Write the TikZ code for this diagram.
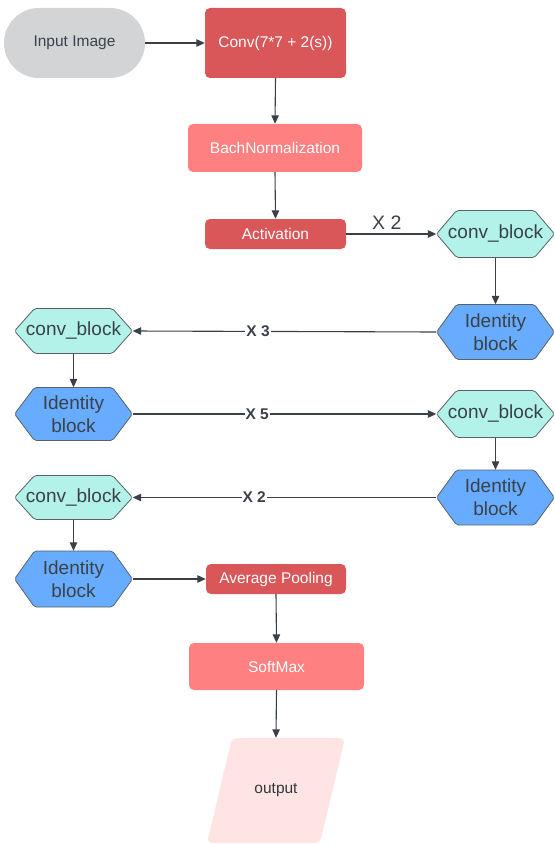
\documentclass[tikz,border=0pt]{standalone}
\usepackage{fontspec}
\setmainfont{Liberation Sans}
\usetikzlibrary{arrows.meta}
\definecolor{redA}{RGB}{217,87,89}
\definecolor{redB}{RGB}{255,128,128}
\definecolor{grayA}{RGB}{211,212,214}
\definecolor{tealA}{RGB}{178,242,232}
\definecolor{blueA}{RGB}{104,172,255}
\definecolor{pinkA}{RGB}{255,228,228}
\definecolor{edgeA}{RGB}{90,96,104}
\definecolor{textA}{RGB}{58,65,74}
\definecolor{arrowA}{RGB}{59,64,72}
\newcommand{\hexbox}[6]{%
  \filldraw[fill=#5, draw=edgeA, line width=0.8pt, rounded corners=2pt]
    ({#2-59},#3) -- ({#2-39},{#3-#4}) -- ({#2+39},{#3-#4}) -- ({#2+59},#3)
    -- ({#2+39},{#3+#4}) -- ({#2-39},{#3+#4}) -- cycle;
  \node[hexlabel, minimum height={2*#4}] (#1) at (#2,#3) {#6};}
\begin{document}
\begin{tikzpicture}[x=1pt,y=-1pt,
  box/.style={rectangle, rounded corners=5pt, text=white, inner sep=0pt,
    font=\fontsize{15.5}{18}\selectfont},
  hexlabel/.style={rectangle, inner sep=0pt, minimum width=118pt, align=center,
    text=textA, font=\fontsize{19}{23}\selectfont},
  conn/.style={draw=arrowA, line width=1.1pt, -{Triangle[length=8.5pt,width=7.5pt]}},
  xlab/.style={fill=white, inner sep=1pt, text=textA, font=\bfseries\fontsize{15.5}{17}\selectfont}
]
\useasboundingbox (0,0) rectangle (554,845);

\node[rectangle, rounded corners=35pt, fill=grayA, minimum width=141pt, minimum height=70pt,
  text=textA, font=\fontsize{15.5}{18}\selectfont] (inp) at (74.5,43) {Input Image};
\node[box, fill=redA, minimum width=141pt, minimum height=70pt] (conv) at (275.5,43) {Conv(7*7 + 2(s))};
\node[box, fill=redB, minimum width=174pt, minimum height=48pt] (bn) at (275,148) {BachNormalization};
\node[box, fill=redA, minimum width=141pt, minimum height=30pt] (act) at (275.5,234) {Activation};

\hexbox{cb1}{495.5}{234}{23.5}{tealA}{conv\_block}
\hexbox{id1}{495.5}{332}{27.5}{blueA}{Identity\\block}
\hexbox{cb2}{73.5}{331}{22.5}{tealA}{conv\_block}
\hexbox{id2}{73.5}{414}{26.5}{blueA}{Identity\\block}
\hexbox{cb3}{495.5}{414}{23.5}{tealA}{conv\_block}
\hexbox{id3}{495.5}{497.5}{27.5}{blueA}{Identity\\block}
\hexbox{cb4}{73.5}{497.5}{22}{tealA}{conv\_block}
\hexbox{id4}{73.5}{579}{28}{blueA}{Identity\\block}

\node[box, fill=redA, minimum width=140pt, minimum height=30pt] (avg) at (276,579) {Average Pooling};
\node[box, fill=redB, minimum width=175pt, minimum height=47pt] (sm) at (276.5,666.5) {SoftMax};

\fill[pinkA, rounded corners=5pt] (232,738) -- (345,738) -- (320,843) -- (207,843) -- cycle;
\node[rectangle, inner sep=0pt, minimum width=113pt, minimum height=105pt,
  text=textA!85!black, font=\fontsize{15.5}{18}\selectfont] (out) at (276,790.5) {output};

\draw[conn] (inp.east) -- (conv.west);
\draw[conn] (conv.south) -- (bn.north);
\draw[conn] (bn.south) -- (act.north);
\draw[conn] (act.east) -- node[pos=0.45, above=1pt, text=textA, font=\fontsize{19.5}{21}\selectfont] {X 2} (cb1.west);
\draw[conn] (cb1.south) -- (id1.north);
\draw[conn] (id1.west) -- node[pos=0.587, xlab] {X 3} (cb2.east);
\draw[conn] (cb2.south) -- (id2.north);
\draw[conn] (id2.east) -- node[pos=0.41, xlab] {X 5} (cb3.west);
\draw[conn] (cb3.south) -- (id3.north);
\draw[conn] (id3.west) -- node[pos=0.60, xlab] {X 2} (cb4.east);
\draw[conn] (cb4.south) -- (id4.north);
\draw[conn] (id4.east) -- (avg.west);
\draw[conn] (avg.south) -- (sm.north);
\draw[conn] (sm.south) -- (out.north);
\end{tikzpicture}
\end{document}
